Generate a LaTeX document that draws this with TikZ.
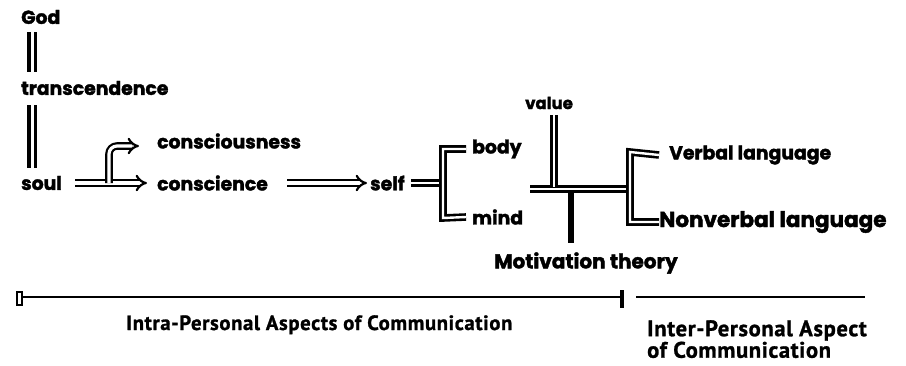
\documentclass[tikz,border=0pt]{standalone}
\usepackage{fontspec}
\setmainfont{Poppins}[BoldFeatures={FakeBold=1.8}]
\newfontfamily\botfont{PT Sans}[BoldFeatures={FakeBold=1.2,LetterSpace=3}]
\usetikzlibrary{arrows.meta}
\begin{document}
\begin{tikzpicture}[x=1pt,y=-1pt,
  lbl/.style={anchor=west,inner sep=0pt,font=\fontsize{18.8}{20}\selectfont\bfseries},
  small/.style={anchor=west,inner sep=0pt,font=\fontsize{16.5}{18}\selectfont\bfseries},
  big/.style={anchor=west,inner sep=0pt,font=\fontsize{21.5}{23}\selectfont\bfseries},
  mot/.style={anchor=west,inner sep=0pt,font=\fontsize{20}{22}\selectfont\bfseries},
  bot/.style={inner sep=0pt,align=left,font=\botfont\fontsize{20.7}{22}\selectfont\bfseries},
  dbl/.style={draw,line width=3.2pt,double=white,double distance=3pt},
  hollow/.style={draw,line width=2.2pt,double=white,double distance=3.2pt,-{Implies},line join=round},
  bar/.style={draw,line width=2.6pt,double=white,double distance=2.4pt,line join=miter},
  axis/.style={draw,line width=1.8pt}]
\useasboundingbox (0,0) rectangle (906,365);

\node[lbl] (god) at (21,17) {God};
\node[lbl] (trans) at (21,88) {transcendence};
\node[lbl] (soul) at (21,183) {soul};
\node[lbl] (consc) at (157,141) {consciousness};
\node[lbl] (consci) at (157,183) {conscience};
\node[lbl] (self) at (370,183) {self};
\node[lbl] (body) at (472,149) {body};
\node[lbl] (mind) at (472,217) {mind};
\node[small] (value) at (525,103) {value};
\node[lbl] (verbal) at (669,155) {Verbal language};
\node[big] (nonverbal) at (659,222) {Nonverbal language};
\node[mot] (motiv) at (494,263) {Motivation theory};
\node[bot,anchor=base west] (intra) at (126,330) {Intra-Personal Aspects of Communication};
\node[bot,anchor=north west,font=\botfont\fontsize{22.5}{20}\selectfont\bfseries] (inter) at (647,320) {Inter-Personal Aspect\\of Communication};

% vertical double links
\draw[dbl] (32,32) -- (32,72);
\draw[dbl] (32,105) -- (32,168);

% hollow arrows
\draw[hollow] (75,183) -- (147,183);
\draw[hollow,rounded corners=8pt] (109,183) -- (109,146) -- (139,146);
\draw[hollow] (287,183) -- (367,183);

% self bracket
\coordinate (bk) at (443,183);
\draw[bar] (self.east) ++(6,0) -- (bk);
\draw[bar] (body.west) ++(-6,0) -- (443,149) -- (443,218) -- ([xshift=-6pt]mind.west);

% value / motivation structure
\coordinate (hl) at (530,189);
\coordinate (hr) at (630,189);
\draw[line width=6pt] (571,190) -- (571,243);
\draw[bar] (hl) -- (hr);
\draw[bar] (554,115) -- (554,187);
\draw[bar] ([xshift=-10pt]verbal.west) -- (630,152) -- (630,222) -- (nonverbal.west);

% bottom axis
\draw[line width=1.2pt] (17,292) rectangle (22,305);
\draw[axis] (22,297) -- (622,297);
\draw[line width=4pt] (622,290) -- (622,308);
\draw[axis] (636,297) -- (865,297);
\end{tikzpicture}
\end{document}
